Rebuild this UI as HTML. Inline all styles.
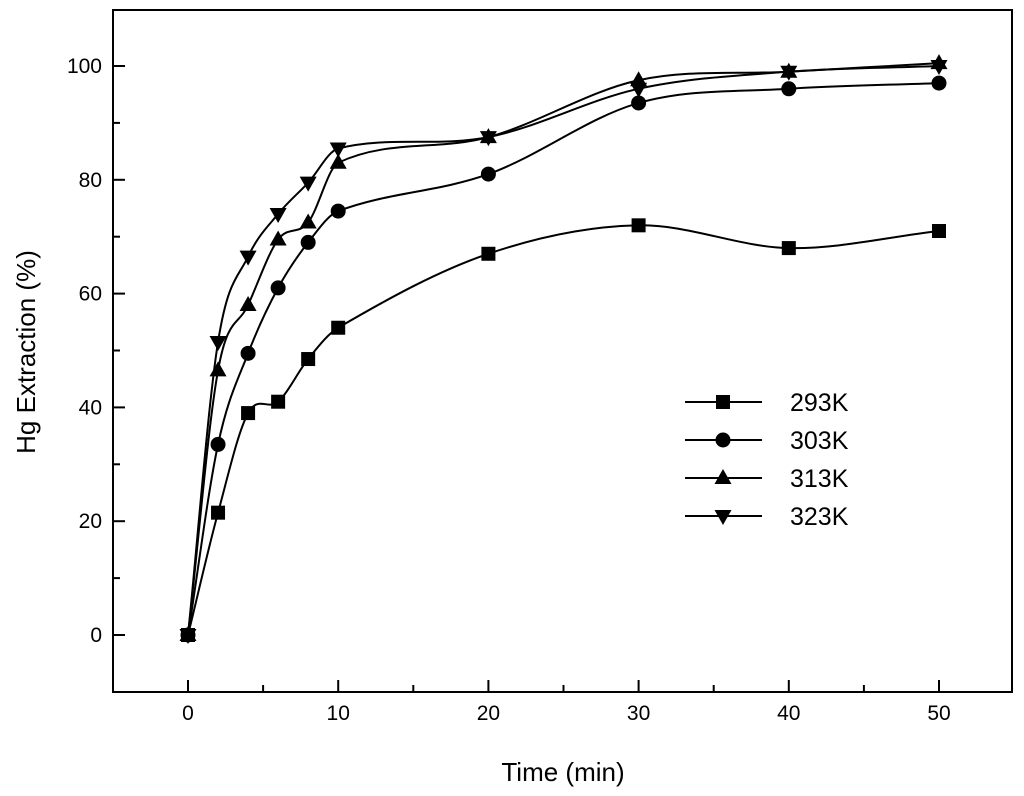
<!DOCTYPE html>
<html><head><meta charset="utf-8"><style>
body{margin:0;background:#fff;}
svg{display:block;font-family:"Liberation Sans",Arial,sans-serif;}
</style></head><body>
<svg id="chart" width="1024" height="796" viewBox="0 0 1024 796" xmlns="http://www.w3.org/2000/svg">
<rect x="0" y="0" width="1024" height="796" fill="#fff"/>
<g id="plot"></g>
</svg>
<script>
const times=[0,2,4,6,8,10,20,30,40,50];
const s293=[0,21.5,39,41,48.5,54,67,72,68,71];
const s303=[0,33.5,49.5,61,69,74.5,81,93.5,96,97];
const s313=[0,46.5,58,69.5,72.5,83,87.5,97.5,99,100.5];
const s323=[0,51.5,66.5,74,79.5,85.5,87.5,96,99,100];
const seriesNames=["293K","303K","313K","323K"];
const xTicks=[0,10,20,30,40,50];
const yTicks=[0,20,40,60,80,100];

const L=113,R=1012,T=10,B=692;
const xs=v=>188+v*(939-188)/50;
const ys=v=>635-v*(635-66)/100;
const NS="http://www.w3.org/2000/svg";
const g=document.getElementById('plot');
function el(tag,attrs,parent){const e=document.createElementNS(NS,tag);for(const k in attrs)e.setAttribute(k,attrs[k]);(parent||g).appendChild(e);return e;}

const frame=el('rect',{x:L,y:T,width:R-L,height:B-T,fill:'none',stroke:'#000','stroke-width':2});



for(let v=-5;v<=55;v+=5){
  const x=xs(v); if(x<=L+1||x>=R-1)continue;
  const major=v%10===0;
  const t=el('line',{x1:x,x2:x,y1:B,y2:B-(major?12:7),stroke:'#000','stroke-width':2});
  
  
}
xTicks.forEach(v=>{
  const t=el('text',{x:xs(v),y:B+28,'text-anchor':'middle','font-size':21,fill:'#000'});
  t.textContent=v;
  
  
});
for(let v=-10;v<=110;v+=10){
  const y=ys(v); if(y<=T+1||y>=B-1)continue;
  const major=v%20===0;
  const t=el('line',{x1:L,x2:L+(major?12:7),y1:y,y2:y,stroke:'#000','stroke-width':2});
  
  
}
yTicks.forEach(v=>{
  const t=el('text',{x:L-11,y:ys(v)+7,'text-anchor':'end','font-size':21,fill:'#000'});
  t.textContent=v;
  
  
});
const xt=el('text',{x:563,y:781,'text-anchor':'middle','font-size':26,fill:'#000'});
xt.textContent='Time (min)';


const yt=el('text',{x:0,y:0,'text-anchor':'middle','font-size':26,fill:'#000',transform:'translate(35,352) rotate(-90)'});
yt.textContent='Hg Extraction (%)';



function spline(pts){
  const n=pts.length, m=[];
  for(let i=0;i<n;i++){
    const a=pts[Math.max(0,i-1)], b=pts[Math.min(n-1,i+1)];
    m.push((b[1]-a[1])/(b[0]-a[0]));
  }
  let d=`M${pts[0][0]},${pts[0][1]}`;
  for(let i=0;i<n-1;i++){
    const p1=pts[i],p2=pts[i+1],h=(p2[0]-p1[0])/3;
    d+=` C${p1[0]+h},${p1[1]+m[i]*h} ${p2[0]-h},${p2[1]-m[i+1]*h} ${p2[0]},${p2[1]}`;
  }
  return d;
}
function marker(kind,x,y,parent){
  let m;
  if(kind===0) m=el('rect',{x:x-7,y:y-7,width:14,height:14,fill:'#000'},parent);
  else if(kind===1) m=el('circle',{cx:x,cy:y,r:7.5,fill:'#000'},parent);
  else if(kind===2) m=el('polygon',{points:`${x},${y-9} ${x+8.5},${y+6} ${x-8.5},${y+6}`,fill:'#000'},parent);
  else m=el('polygon',{points:`${x},${y+9} ${x+8.5},${y-6} ${x-8.5},${y-6}`,fill:'#000'},parent);
  return m;
}
const allSeries=[s293,s303,s313,s323];
allSeries.forEach((s,k)=>{
  const sg=el('g',{});
  
  
  const pts=times.map((t,i)=>[xs(t),ys(s[i])]);
  const p=el('path',{d:spline(pts),fill:'none',stroke:'#000','stroke-width':2},sg);
  
  
  pts.forEach(pt=>{
    const m=marker(k,pt[0],pt[1],sg);
    
    
  });
});
const lg=el('g',{});


seriesNames.forEach((n,k)=>{
  const y=402+k*38;
  const eg=el('g',{},lg);
  
  
  el('line',{x1:685,x2:762,y1:y,y2:y,stroke:'#000','stroke-width':2},eg);
  marker(k,723,y,eg);
  const t=el('text',{x:790,y:y+9,'font-size':25,fill:'#000'},eg);
  t.textContent=n;
});
</script>
</body></html>
